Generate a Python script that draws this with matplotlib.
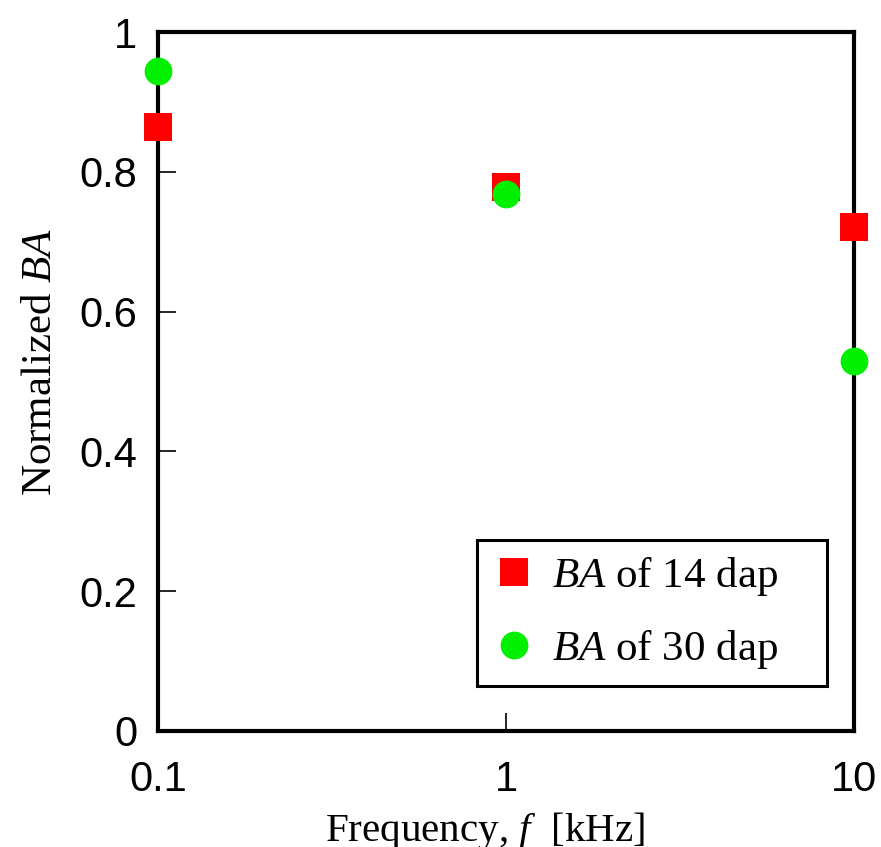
import matplotlib
matplotlib.use("Agg")
from matplotlib import pyplot as plt
from matplotlib.ticker import FixedLocator, NullLocator, FixedFormatter

# data
freq_khz = [0.1, 1, 10]
ba_14dap = [0.864, 0.778, 0.721]
ba_30dap = [0.944, 0.768, 0.529]
x_ticks = [0.1, 1, 10]
x_tick_labels = ["0.1", "1", "10"]
y_ticks = [0, 0.2, 0.4, 0.6, 0.8, 1.0]
y_tick_labels = ["0", "0.2", "0.4", "0.6", "0.8", "1"]

plt.rcParams["mathtext.fontset"] = "custom"
plt.rcParams["mathtext.rm"] = "Liberation Serif"
plt.rcParams["mathtext.it"] = "Liberation Serif:italic"

fig = plt.figure(figsize=(8.81, 8.47), dpi=100)
ax = fig.add_axes([0.1793, 0.1370, 0.7901, 0.8252])

# trailing spaces give the wide right margin seen in the legend box
ax.plot(freq_khz, ba_14dap, linestyle="none", marker="s", markersize=20,
        color="#ff0000", markeredgewidth=0, clip_on=False, zorder=3,
        label="$BA$ of 14 dap    ")
ax.plot(freq_khz, ba_30dap, linestyle="none", marker="o", markersize=20,
        color="#00f000", markeredgewidth=0, clip_on=False, zorder=4,
        label="$BA$ of 30 dap    ")

ax.set_xscale("log")
ax.set_xlim(0.1, 10)
ax.set_ylim(0, 1)
ax.xaxis.set_major_locator(FixedLocator(x_ticks))
ax.xaxis.set_major_formatter(FixedFormatter(x_tick_labels))
ax.xaxis.set_minor_locator(NullLocator())
ax.yaxis.set_major_locator(FixedLocator(y_ticks))
ax.yaxis.set_major_formatter(FixedFormatter(y_tick_labels))

for s in ax.spines.values():
    s.set_linewidth(3)
ax.tick_params(direction="in", length=13, width=1.2, labelsize=30,
               labelfontfamily="Liberation Sans")
ax.tick_params(axis="x", pad=21)
ax.tick_params(axis="y", pad=15)

ax.set_xlabel("Frequency, $f$  [kHz]", fontsize=29.5, family="Liberation Serif",
              labelpad=7)
ax.xaxis.label.set_x(0.47)
ax.set_ylabel("Normalized $BA$", fontsize=31, family="Liberation Serif",
              labelpad=14)
ax.yaxis.label.set_y(0.528)

leg = ax.legend(loc="lower right", bbox_to_anchor=(0.961, 0.064),
                borderaxespad=0, fancybox=False, framealpha=1,
                edgecolor="black", prop={"family": "Liberation Serif", "size": 31},
                handletextpad=0.38, labelspacing=0.69, borderpad=0.35,
                handlelength=1.0)
leg.get_frame().set_linewidth(2.2)

fig.savefig("out.png", dpi=100)
